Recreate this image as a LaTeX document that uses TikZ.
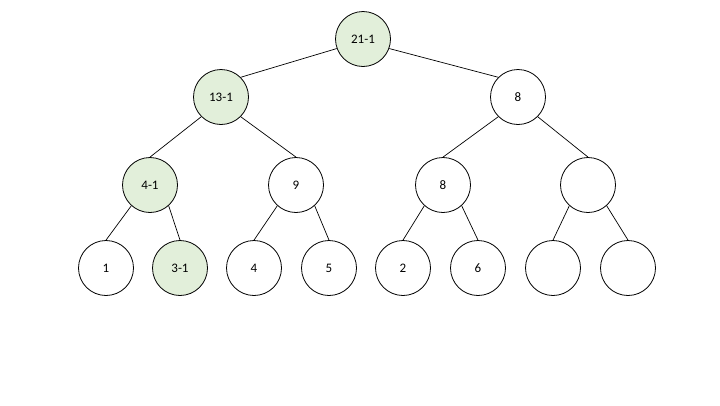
\documentclass[tikz,border=0pt]{standalone}
\usepackage{fontspec}
\setmainfont{Carlito}
\definecolor{lgreen}{HTML}{E2EFDA}
\begin{document}
\begin{tikzpicture}[x=1pt,y=-1pt,
  tn/.style={circle,draw=black,line width=0.8pt,minimum size=55pt,inner sep=0pt,font=\fontsize{13}{15}\selectfont,fill=white},
  hl/.style={tn,fill=lgreen},
  edge/.style={line width=0.7pt}]
\useasboundingbox (0,0) rectangle (720,405);
\node[hl] (r) at (363,39) {21-1};
\node[hl] (a) at (221,97) {13-1};
\node[tn] (b) at (518,97) {8};
\node[hl] (c) at (150,185) {4-1};
\node[tn] (d) at (296,185) {9};
\node[tn] (e) at (443,185) {8};
\node[tn] (f) at (588,185) {};
\node[tn] (l1) at (106,268) {1};
\node[hl] (l2) at (180,268) {3-1};
\node[tn] (l3) at (254,268) {4};
\node[tn] (l4) at (329,268) {5};
\node[tn] (l5) at (403,268) {2};
\node[tn] (l6) at (478,268) {6};
\node[tn] (l7) at (553,268) {};
\node[tn] (l8) at (628,268) {};
\draw[edge] (r.200) -- (a.45);
\draw[edge] (r.-20) -- (b.135);
\draw[edge] (a.225) -- (c.north);
\draw[edge] (a.315) -- (d.north);
\draw[edge] (b.225) -- (e.north);
\draw[edge] (b.315) -- (f.north);
\draw[edge] (c.228) -- (l1.north);
\draw[edge] (c.312) -- (l2.north);
\draw[edge] (d.228) -- (l3.north);
\draw[edge] (d.312) -- (l4.north);
\draw[edge] (e.228) -- (l5.north);
\draw[edge] (e.312) -- (l6.north);
\draw[edge] (f.228) -- (l7.north);
\draw[edge] (f.312) -- (l8.north);
\end{tikzpicture}
\end{document}
